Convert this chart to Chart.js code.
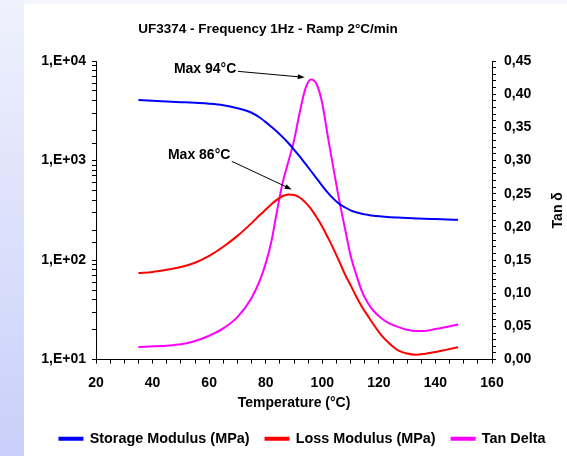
<!DOCTYPE html>
<html>
<head>
<meta charset="utf-8">
<script src="https://cdn.jsdelivr.net/npm/chart.js@4/dist/chart.umd.min.js"></script>
<style>
  html, body { margin: 0; padding: 0; width: 567px; height: 456px; overflow: hidden; background: #f4f5fd; }
  #strip { position: absolute; left: 0; top: 0; width: 24px; height: 456px; background: linear-gradient(to bottom, #eff1fc, #c8d0fa); }
  #paper { position: absolute; left: 24px; top: 4px; width: 543px; height: 452px; background: #ffffff; }
  #wrap { position: absolute; left: 0; top: 0; width: 567px; height: 456px; }
</style>
</head>
<body>
<div id="strip"></div>
<div id="paper"></div>
<div id="wrap"><canvas id="c" width="567" height="456"></canvas></div>
<script>
// ---- data ----
const temps = [35,40,45,50,55,60,65,70,75,78,80,82,84,86,88,90,92,94,96,98,100,102,104,106,108,110,112,114,116,118,121,124,127,130,133,136,140,144,148];
const storageModulus = [4050,3980,3920,3860,3800,3730,3600,3350,3020,2690,2430,2180,1950,1720,1500,1290,1100,930,785,661,556,473,412,367,339,316,302,292,285,279,274,270,267,264,262,260,258,256,254];
const lossModulus = [74,76,80,85,94,110,136,175,235,285,322,364,405,440,457,450,425,380,327,269,216,168,129,97,72,56,43,34,27.8,22.8,17.4,14.3,12.3,11.5,11.2,11.4,11.9,12.6,13.3];
const tanDelta = [0.019,0.020,0.021,0.023,0.028,0.036,0.047,0.064,0.093,0.120,0.145,0.178,0.224,0.267,0.298,0.330,0.372,0.408,0.422,0.415,0.386,0.335,0.287,0.240,0.198,0.157,0.128,0.103,0.086,0.074,0.062,0.054,0.049,0.045,0.043,0.043,0.046,0.049,0.053];
const seriesNames = ['Storage Modulus (MPa)', 'Loss Modulus (MPa)', 'Tan Delta'];
const chartTitle = 'UF3374 - Frequency 1Hz - Ramp 2°C/min';
const xTitle = 'Temperature (°C)';
const y2Title = 'Tan δ';
// annotations: label, text anchor (temp, modulus), arrow start and tip (temp, modulus)
const annoLabels = ['Max 94°C', 'Max 86°C'];
const annoTextAt = [[69.6, 8200], [67.5, 1130]];
const annoArrowFrom = [[70.2, 7870], [68.0, 982]];
const annoArrowTo = [[93.8, 6850], [89.2, 513]];

const FONT = "'Liberation Sans', Arial, sans-serif";
const toXY = (vals) => temps.map((t, i) => ({ x: t, y: vals[i] }));

const overlay = {
  id: 'overlay',
  afterDatasetsDraw(chart) {
    const ctx = chart.ctx, xs = chart.scales.x, ys = chart.scales.y;
    ctx.save();
    ctx.fillStyle = '#000'; ctx.strokeStyle = '#000';
    ctx.font = 'bold 14px ' + FONT;
    ctx.textAlign = 'right'; ctx.textBaseline = 'middle';
    annoLabels.forEach((lab, i) => {
      ctx.fillText(lab, xs.getPixelForValue(annoTextAt[i][0]), ys.getPixelForValue(annoTextAt[i][1]));
      const x1 = xs.getPixelForValue(annoArrowFrom[i][0]), y1 = ys.getPixelForValue(annoArrowFrom[i][1]);
      const x2 = xs.getPixelForValue(annoArrowTo[i][0]), y2 = ys.getPixelForValue(annoArrowTo[i][1]);
      const a = Math.atan2(y2 - y1, x2 - x1);
      ctx.lineWidth = 1;
      ctx.beginPath(); ctx.moveTo(x1, y1); ctx.lineTo(x2 - 5 * Math.cos(a), y2 - 5 * Math.sin(a)); ctx.stroke();
      ctx.beginPath();
      ctx.moveTo(x2, y2);
      ctx.lineTo(x2 - 7 * Math.cos(a) + 2.5 * Math.sin(a), y2 - 7 * Math.sin(a) - 2.5 * Math.cos(a));
      ctx.lineTo(x2 - 7 * Math.cos(a) - 2.5 * Math.sin(a), y2 - 7 * Math.sin(a) + 2.5 * Math.cos(a));
      ctx.closePath(); ctx.fill();
    });
    ctx.restore();
  },
  afterDraw(chart) {
    const ctx = chart.ctx, ca = chart.chartArea;
    ctx.save();
    ctx.fillStyle = '#000';
    ctx.font = 'bold 13.5px ' + FONT;
    ctx.textAlign = 'center'; ctx.textBaseline = 'middle';
    ctx.fillText(chartTitle, 268, 29);
    ctx.font = 'bold 14px ' + FONT;
    ctx.translate(558, (ca.top + ca.bottom) / 2);
    ctx.rotate(-Math.PI / 2);
    ctx.fillText(y2Title, 0, 0);
    ctx.restore();
  }
};

new Chart(document.getElementById('c'), {
  type: 'line',
  data: {
    datasets: [
      { label: seriesNames[0], data: toXY(storageModulus), yAxisID: 'y', borderColor: '#0000ff', backgroundColor: '#0000ff' },
      { label: seriesNames[1], data: toXY(lossModulus), yAxisID: 'y', borderColor: '#ff0000', backgroundColor: '#ff0000' },
      { label: seriesNames[2], data: toXY(tanDelta), yAxisID: 'y2', borderColor: '#ff00ff', backgroundColor: '#ff00ff' }
    ]
  },
  options: {
    responsive: false,
    animation: false,
    devicePixelRatio: 1,
    layout: { padding: { left: 38, right: 0, top: 61, bottom: 0 } },
    elements: {
      point: { radius: 0 },
      line: { borderWidth: 2, cubicInterpolationMode: 'monotone' }
    },
    plugins: {
      title: { display: false },
      tooltip: { enabled: false },
      legend: {
        position: 'bottom',
        labels: {
          boxWidth: 23, boxHeight: 2, padding: 16, color: '#000',
          font: { family: FONT, size: 14.4, weight: 'bold' }
        }
      }
    },
    scales: {
      x: {
        type: 'linear', min: 20, max: 160,
        afterFit(s) { s.height = 56; },
        border: { color: '#000', width: 1 },
        grid: { drawOnChartArea: false, drawTicks: true, tickLength: 4, color: '#000' },
        ticks: {
          stepSize: 5, autoSkip: false, maxRotation: 0, padding: 11, color: '#000',
          font: { family: FONT, size: 14, weight: 'bold' },
          callback: (v) => (Math.round(v) % 20 === 0 ? String(Math.round(v)) : '')
        },
        title: { display: true, text: xTitle, color: '#000', padding: { top: 2, bottom: 4 }, font: { family: FONT, size: 14, weight: 'bold' } }
      },
      y: {
        type: 'logarithmic', position: 'left', min: 10, max: 10000,
        afterFit(s) { s.width = 58; },
        border: { color: '#000', width: 1 },
        grid: { drawOnChartArea: false, drawTicks: true, tickLength: 4, color: '#000' },
        ticks: {
          autoSkip: false, padding: 6, color: '#000',
          font: { family: FONT, size: 14, weight: 'bold' },
          callback: (v) => {
            const e = Math.log10(v);
            return Math.abs(e - Math.round(e)) < 1e-9 ? '1,E+' + String(Math.round(e)).padStart(2, '0') : '';
          }
        }
      },
      y2: {
        type: 'linear', position: 'right', min: 0, max: 0.45,
        afterFit(s) { s.width = 75; },
        border: { color: '#000', width: 1 },
        grid: { drawOnChartArea: false, drawTicks: true, tickLength: 4, color: '#000' },
        ticks: {
          stepSize: 0.01, autoSkip: false, padding: 8, color: '#000',
          font: { family: FONT, size: 14, weight: 'bold' },
          callback: (v) => (Math.round(v * 100) % 5 === 0 ? v.toFixed(2).replace('.', ',') : '')
        }
      }
    }
  },
  plugins: [overlay]
});
</script>
</body>
</html>
